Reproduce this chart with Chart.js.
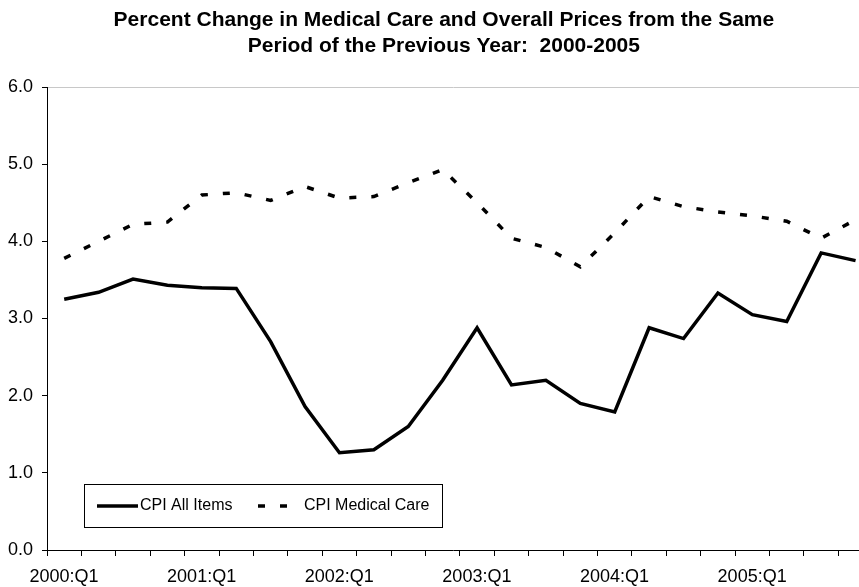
<!DOCTYPE html>
<html>
<head>
<meta charset="utf-8">
<script src="https://cdn.jsdelivr.net/npm/chart.js@4"></script>
<style>
  body { margin: 0; background: #fff; overflow: hidden; }
  .wrap { position: relative; width: 859px; height: 587px; }
</style>
</head>
<body>
<div class="wrap"><canvas id="chart"></canvas></div>
<script>
const quarters = [
  "2000:Q1", "2000:Q2", "2000:Q3", "2000:Q4",
  "2001:Q1", "2001:Q2", "2001:Q3", "2001:Q4",
  "2002:Q1", "2002:Q2", "2002:Q3", "2002:Q4",
  "2003:Q1", "2003:Q2", "2003:Q3", "2003:Q4",
  "2004:Q1", "2004:Q2", "2004:Q3", "2004:Q4",
  "2005:Q1", "2005:Q2", "2005:Q3", "2005:Q4"
];
const cpiAllItems = [
  3.25, 3.34, 3.51, 3.43, 3.40, 3.39, 2.70, 1.86,
  1.26, 1.30, 1.60, 2.20, 2.88, 2.14, 2.20, 1.90,
  1.79, 2.88, 2.74, 3.33, 3.05, 2.96, 3.85, 3.75
];
const cpiMedicalCare = [
  3.78, 4.00, 4.22, 4.25, 4.60, 4.63, 4.53, 4.71,
  4.56, 4.58, 4.76, 4.93, 4.50, 4.04, 3.92, 3.67,
  4.11, 4.58, 4.45, 4.38, 4.33, 4.26, 4.04, 4.28
];
const seriesNames = ["CPI All Items", "CPI Medical Care"];
const titleLines = [
  "Percent Change in Medical Care and Overall Prices from the Same",
  "Period of the Previous Year:  2000-2005"
];

const FONT = "'Liberation Sans', Arial, sans-serif";

// the original plot runs past the right edge, so centre the title on the full plot width
const titleShift = {
  id: "titleShift",
  afterLayout(chart) {
    const t = chart.titleBlock;
    const full = chart.scales.x.getPixelForValue(quarters.length - 0.5) + 15;
    t.left = 0;
    t.right = full;
    t.width = full;
  }
};

// legend drawn inside the plot, Excel style box
const boxLegend = {
  id: "boxLegend",
  afterDraw(chart) {
    const ctx = chart.ctx;
    ctx.save();
    ctx.strokeStyle = "#000";
    ctx.lineWidth = 1;
    ctx.strokeRect(84.5, 484.5, 358, 43);
    const y = 506;
    const items = [
      { x1: 97, x2: 138, tx: 140 },
      { x1: 258, x2: 290, tx: 304 }
    ];
    chart.data.datasets.forEach((ds, i) => {
      const it = items[i];
      ctx.beginPath();
      ctx.lineWidth = ds.borderWidth;
      ctx.setLineDash(ds.borderDash || []);
      ctx.moveTo(it.x1, y);
      ctx.lineTo(it.x2, y);
      ctx.stroke();
      ctx.setLineDash([]);
      ctx.fillStyle = "#000";
      ctx.font = "16px " + FONT;
      ctx.textBaseline = "middle";
      ctx.fillText(ds.label, it.tx, y);
    });
    ctx.restore();
  }
};

new Chart(document.getElementById("chart"), {
  type: "line",
  data: {
    datasets: [
      {
        label: seriesNames[0],
        data: cpiAllItems.map((v, i) => ({ x: i, y: v })),
        borderColor: "#000",
        borderWidth: 3.5,
        pointRadius: 0,
        tension: 0
      },
      {
        label: seriesNames[1],
        data: cpiMedicalCare.map((v, i) => ({ x: i, y: v })),
        borderColor: "#000",
        borderWidth: 3.5,
        borderDash: [7, 15],
        borderCapStyle: "butt",
        pointRadius: 0,
        tension: 0
      }
    ]
  },
  options: {
    responsive: true,
    maintainAspectRatio: false,
    animation: false,
    layout: { padding: 0 },
    plugins: {
      legend: { display: false },
      tooltip: { enabled: false },
      title: {
        display: true,
        text: titleLines,
        color: "#000",
        font: { family: FONT, size: 21, weight: "bold", lineHeight: 1.2 },
        padding: { top: 8, bottom: 28.6 }
      }
    },
    scales: {
      x: {
        type: "linear",
        min: -0.5,
        max: 23.1,
        afterBuildTicks(scale) {
          // tick marks sit between quarters
          scale.ticks = quarters.map((q, i) => ({ value: i - 0.5 }));
        },
        afterFit(scale) { scale.height = 37; },
        border: { display: true, color: "#000", width: 1 },
        grid: {
          drawOnChartArea: false,
          drawTicks: true,
          tickLength: 6,
          tickColor: "#000"
        },
        ticks: {
          autoSkip: false,
          maxRotation: 0,
          minRotation: 0,
          labelOffset: 17,
          padding: 10,
          color: "#000",
          font: { family: FONT, size: 18 },
          callback(value) {
            const k = Math.round(value + 0.5);
            return k % 4 === 0 ? quarters[k] : "";
          }
        }
      },
      y: {
        min: 0,
        max: 6,
        afterFit(scale) { scale.width = 47; },
        border: { display: true, color: "#000", width: 1 },
        grid: {
          color: (c) => (c.tick && c.tick.value === 6 ? "#c8c8c8" : "rgba(0,0,0,0)"),
          drawTicks: true,
          tickLength: 5,
          tickColor: "#000"
        },
        ticks: {
          stepSize: 1,
          padding: 9,
          color: "#000",
          font: { family: FONT, size: 18 },
          callback: (v) => v.toFixed(1)
        }
      }
    }
  },
  plugins: [titleShift, boxLegend]
});
</script>
</body>
</html>
